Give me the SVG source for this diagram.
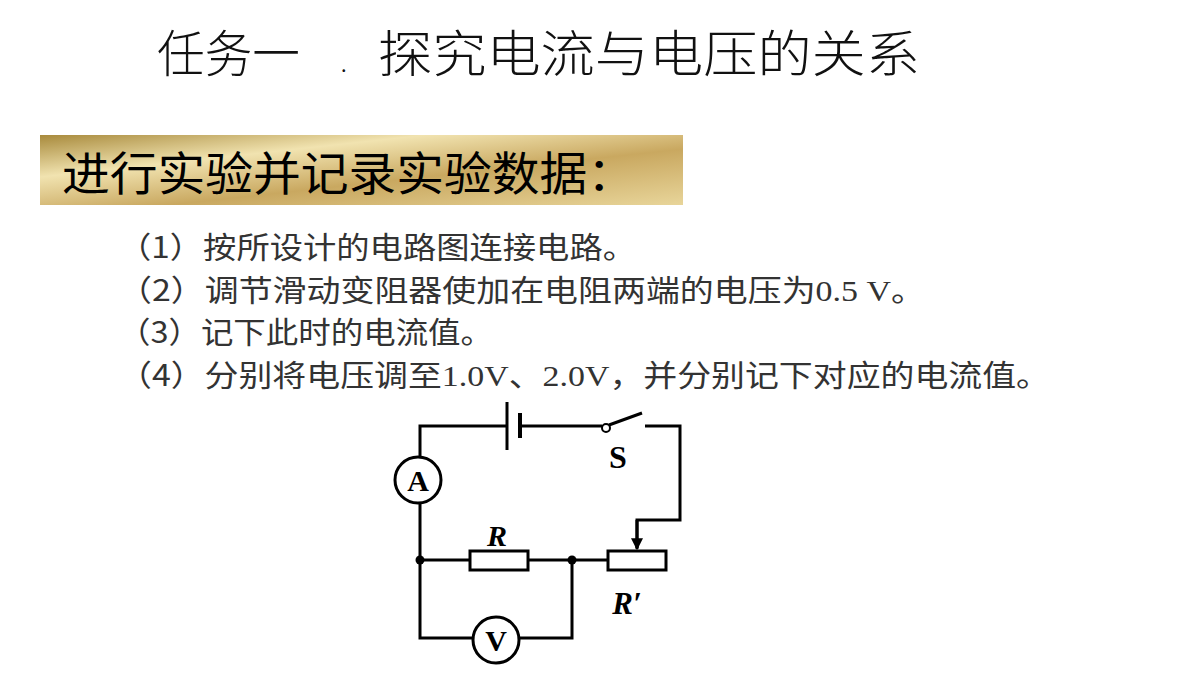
<svg xmlns="http://www.w3.org/2000/svg" width="1200" height="675" viewBox="0 0 1200 675">
<defs>
<linearGradient id="gold" x1="0" y1="0" x2="1" y2="1">
<stop offset="0" stop-color="#a88a3c"/><stop offset="0.3" stop-color="#f1e3b0"/><stop offset="0.6" stop-color="#c9a860"/><stop offset="1" stop-color="#e8d59a"/>
</linearGradient>
<marker id="arr" viewBox="0 0 10 10" refX="9" refY="5" markerWidth="4" markerHeight="4" orient="auto"><path d="M0,0L10,5L0,10z" fill="#000"/></marker>
</defs>
<style>
.cjk{font-family:"Noto Sans CJK SC","Noto Sans",sans-serif}
.w{stroke:#000;stroke-width:3;fill:none}
.lab{font-family:"Liberation Serif",serif;font-weight:bold;fill:#000}
</style>
<rect width="1200" height="675" fill="#fff"/>
<text x="157" y="72" class="cjk" font-size="50" font-weight="300" fill="#111" textLength="143" lengthAdjust="spacingAndGlyphs">任务一</text>
<text x="341" y="72" class="cjk" font-size="20" fill="#111">.</text>
<text x="378" y="72" class="cjk" font-size="50" font-weight="300" fill="#111" textLength="542" lengthAdjust="spacingAndGlyphs">探究电流与电压的关系</text>
<g id="header">
<rect x="40" y="135" width="643" height="70" fill="url(#gold)"/>
<text x="62" y="190" class="cjk" font-size="46" fill="#000" textLength="573" lengthAdjust="spacingAndGlyphs">进行实验并记录实验数据：</text>
</g>
<g class="cjk" font-size="30" fill="#333">
<text x="118" y="258" textLength="518" lengthAdjust="spacingAndGlyphs">（1）按所设计的电路图连接电路。</text>
<text x="118" y="301" textLength="807" lengthAdjust="spacingAndGlyphs">（2）调节滑动变阻器使加在电阻两端的电压为<tspan font-family="Liberation Serif">0.5 V</tspan>。</text>
<text x="118" y="343" textLength="375" lengthAdjust="spacingAndGlyphs">（3）记下此时的电流值。</text>
<text x="118" y="386" textLength="932" lengthAdjust="spacingAndGlyphs">（4）分别将电压调至<tspan font-family="Liberation Serif">1.0V</tspan>、<tspan font-family="Liberation Serif">2.0V</tspan>，并分别记下对应的电流值。</text>
</g>
<g id="connectors">
<path class="w" d="M507,426H420V457M420,503V638H473M519,638H572V560M420,560H470M528,560H608M520,426H602M645,426H680V520H637V548" />
<path class="w" d="M637,520V549" marker-end="url(#arr)"/>
<line class="w" x1="609" y1="425" x2="642" y2="413"/>
</g>
<g id="battery"><line class="w" x1="507" y1="402" x2="507" y2="450"/><line x1="520" y1="413" x2="520" y2="438" stroke="#000" stroke-width="4"/></g>
<g id="switch"><circle cx="606" cy="428" r="4" fill="#fff" stroke="#000" stroke-width="2"/><text x="618" y="468" class="lab" font-size="32" text-anchor="middle">S</text></g>
<g id="ammeter"><circle cx="418" cy="480" r="23" fill="#fff" stroke="#000" stroke-width="3"/><text x="418" y="491" class="lab" font-size="30" text-anchor="middle">A</text></g>
<g id="voltmeter"><circle cx="496" cy="640" r="23" fill="#fff" stroke="#000" stroke-width="3"/><text x="496" y="651" class="lab" font-size="30" text-anchor="middle">V</text></g>
<g id="R"><rect x="470" y="551" width="58" height="19" fill="#fff" stroke="#000" stroke-width="3"/><text x="497" y="546" class="lab" font-style="italic" font-size="30" text-anchor="middle">R</text></g>
<g id="Rp"><rect x="608" y="551" width="58" height="19" fill="#fff" stroke="#000" stroke-width="3"/><text x="627" y="614" class="lab" font-style="italic" font-size="31" text-anchor="middle">R′</text></g>
<circle cx="420" cy="560" r="4.5"/><circle cx="572" cy="560" r="4.5"/>
</svg>
